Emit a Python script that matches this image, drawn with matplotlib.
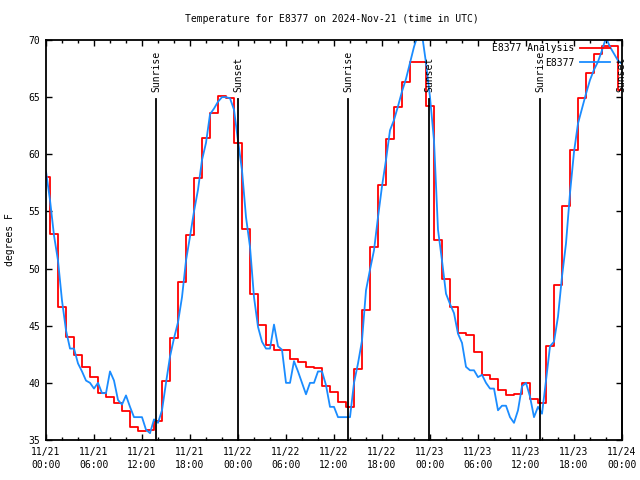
import matplotlib
matplotlib.use("Agg")
import matplotlib.pyplot as plt
from matplotlib.ticker import FixedLocator, MultipleLocator
import numpy as np

plt.rcParams['font.family'] = ['DejaVu Sans Mono']

title = "Temperature for E8377 on 2024-Nov-21 (time in UTC)"
ylabel = "degrees F"

# Hours since 2024-11-21 00:00 UTC
analysis_hours = list(range(0, 73))
analysis_temp = [
    58.0, 53.0, 46.6, 44.0, 42.4, 41.4, 40.5, 39.1, 38.8, 38.2, 37.5, 36.1,
    35.8, 35.9, 36.7, 40.2, 43.9, 48.8, 52.9, 57.9, 61.4, 63.6, 65.1, 64.9,
    61.0, 53.5, 47.8, 45.1, 43.3, 42.9, 42.9, 42.1, 41.8, 41.4, 41.3, 39.7,
    39.2, 38.3, 37.9, 41.2, 46.4, 51.9, 57.3, 61.3, 64.1, 66.3, 68.1, 68.1,
    64.2, 52.5, 49.1, 46.6, 44.4, 44.2, 42.7, 40.7, 40.3, 39.4, 38.9, 39.0,
    40.0, 38.6, 38.2, 43.2, 48.6, 55.5, 60.4, 64.9, 67.1, 68.8, 69.5, 69.5,
    65.6,
]

obs_hours = [i * 0.5 for i in range(145)]
obs_temp = [
    58.5, 56.0, 52.9, 50.7, 47.2, 44.6, 43.0, 43.0, 41.7, 41.0, 40.2, 40.0,
    39.5, 40.0, 39.1, 39.1, 41.0, 40.2, 38.5, 38.1, 38.9, 37.9, 37.0, 37.0,
    37.0, 35.9, 35.6, 36.8, 36.5, 37.6, 40.0, 42.3, 43.9, 45.3, 47.5, 50.7,
    52.8, 55.0, 56.9, 59.5, 61.0, 63.5, 64.0, 64.6, 65.0, 65.0, 64.9, 63.9,
    61.2, 58.6, 54.5, 51.9, 47.5, 44.9, 43.6, 43.0, 43.0, 45.1, 43.2, 42.9,
    40.0, 40.0, 41.9, 41.0, 40.0, 39.0, 40.0, 40.0, 41.0, 41.0, 39.8, 37.9,
    37.9, 37.0, 37.0, 37.0, 37.0, 40.0, 41.7, 43.7, 48.1, 49.9, 51.6, 54.5,
    57.2, 59.5, 62.1, 63.0, 64.2, 65.5, 66.6, 68.0, 69.4, 70.5, 70.5, 68.0,
    65.0, 61.2, 53.4, 50.7, 47.8, 46.9, 46.1, 44.3, 43.5, 41.4, 41.1, 41.1,
    40.5, 40.7, 40.0, 39.5, 39.5, 37.6, 38.0, 38.0, 37.0, 36.5, 37.6, 39.7,
    40.0, 38.8, 37.0, 37.9, 37.3, 40.2, 43.2, 43.6, 45.8, 49.3, 52.2, 56.6,
    60.2, 62.7, 64.0, 65.3, 66.5, 67.4, 68.1, 69.1, 70.2, 69.4, 68.8, 68.2,
    67.9,
]

event_hours = [13.78, 24.03, 37.8, 47.9, 61.8, 71.95]
event_labels = ["Sunrise", "Sunset", "Sunrise", "Sunset", "Sunrise", "Sunset"]

xtick_hours = [0, 6, 12, 18, 24, 30, 36, 42, 48, 54, 60, 66, 72]
xtick_labels = ["11/21\n00:00", "11/21\n06:00", "11/21\n12:00", "11/21\n18:00",
                "11/22\n00:00", "11/22\n06:00", "11/22\n12:00", "11/22\n18:00",
                "11/23\n00:00", "11/23\n06:00", "11/23\n12:00", "11/23\n18:00",
                "11/24\n00:00"]
yticks = [35, 40, 45, 50, 55, 60, 65, 70]

fig = plt.figure(figsize=(6.4, 4.8), dpi=100)
ax = fig.add_axes([46/640, 40/480, 576/640, 400/480])

ax.plot(analysis_hours, analysis_temp, color='#ff0000', lw=1.3,
        drawstyle='steps-mid', label='E8377 Analysis')
ax.plot(obs_hours, obs_temp, color='#1a8cff', lw=1.3, label='E8377')

ax.set_xlim(0, 72)
ax.set_ylim(35, 70)

line_top = 64.83
for h, lab in zip(event_hours, event_labels):
    ax.plot([h, h], [35, line_top], color='black', lw=1.3, clip_on=False)
    ax.text(h, 65.45, lab, rotation=90, ha='center', va='bottom', fontsize=7)

ax.xaxis.set_major_locator(FixedLocator(xtick_hours))
ax.set_xticklabels(xtick_labels, fontsize=7, linespacing=1.4)
ax.xaxis.set_minor_locator(MultipleLocator(2))
ax.set_yticks(yticks)
ax.set_yticklabels([str(v) for v in yticks], fontsize=7)

ax.tick_params(which='both', direction='in', top=True, right=True, width=1.0)
ax.tick_params(which='major', length=4.5)
ax.tick_params(which='minor', length=2.2)
ax.tick_params(axis='x', which='major', pad=5)
ax.tick_params(axis='y', which='major', pad=4)
for s in ax.spines.values():
    s.set_linewidth(1.3)

fig.text(332/640, 1 - 19/480, title, ha='center', va='center', fontsize=7)
fig.text(10/640, 0.5, ylabel, rotation=90, ha='center', va='center', fontsize=7)

leg = ax.legend(loc='upper right', bbox_to_anchor=(1 - 12/576, 1 - 3/400),
                frameon=False, markerfirst=False, handlelength=3.1,
                handletextpad=0.6, labelspacing=0.5, borderaxespad=0,
                borderpad=0, fontsize=7)

fig.savefig('out.png', dpi=100)
